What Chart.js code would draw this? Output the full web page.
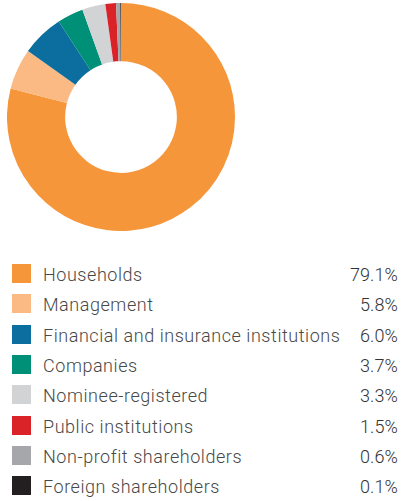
<!DOCTYPE html>
<html>
<head>
<meta charset="utf-8">
<script src="https://cdn.jsdelivr.net/npm/chart.js@4"></script>
<style>
  html,body{margin:0;padding:0;background:#fff;width:403px;height:501px;overflow:hidden;}
  #wrap{position:absolute;left:7px;top:3px;width:228px;height:228px;}
  #legend{position:absolute;left:0;top:0;width:403px;font-family:Roboto,"Open Sans",sans-serif;font-weight:300;}
  .row{position:absolute;left:0;width:403px;height:30px;}
  .sw{position:absolute;left:12px;top:0;width:19px;height:19px;}
  .lab{position:absolute;left:43px;top:1px;font-size:18px;letter-spacing:0.55px;color:#484848;white-space:nowrap;line-height:20px;}
  .val{position:absolute;right:5px;top:1px;font-size:18px;letter-spacing:0.1px;color:#333;white-space:nowrap;line-height:20px;}
</style>
</head>
<body>
<div id="wrap"><canvas id="c"></canvas></div>
<div id="legend"></div>
<script>
const categories = ["Households","Management","Financial and insurance institutions","Companies","Nominee-registered","Public institutions","Non-profit shareholders","Foreign shareholders"];
const shares = [79.1, 5.8, 6.0, 3.7, 3.3, 1.5, 0.6, 0.1];
const shareLabels = ["79.1%","5.8%","6.0%","3.7%","3.3%","1.5%","0.6%","0.1%"];
const colors = ["#F5963A","#FBB983","#0B6E9F","#009078","#D2D3D5","#DA2229","#A6A7AA","#231F20"];

new Chart(document.getElementById('c'), {
  type: 'doughnut',
  data: { labels: categories, datasets: [{ data: shares, backgroundColor: colors, borderWidth: 0 }] },
  options: {
    responsive: true, maintainAspectRatio: false, animation: false,
    cutout: '49%',
    plugins: { legend: { display: false }, tooltip: { enabled: false } }
  }
});

const leg = document.getElementById('legend');
const rowTop0 = 264, rowStep = 30.3;
categories.forEach((name, i) => {
  const r = document.createElement('div');
  r.className = 'row';
  r.style.top = Math.round(rowTop0 + i * rowStep) + 'px';
  r.innerHTML = `<div class="sw" style="background:${colors[i]}"></div>
    <div class="lab">${name}</div>
    <div class="val">${shareLabels[i]}</div>`;
  leg.appendChild(r);
});
</script>
</body>
</html>
